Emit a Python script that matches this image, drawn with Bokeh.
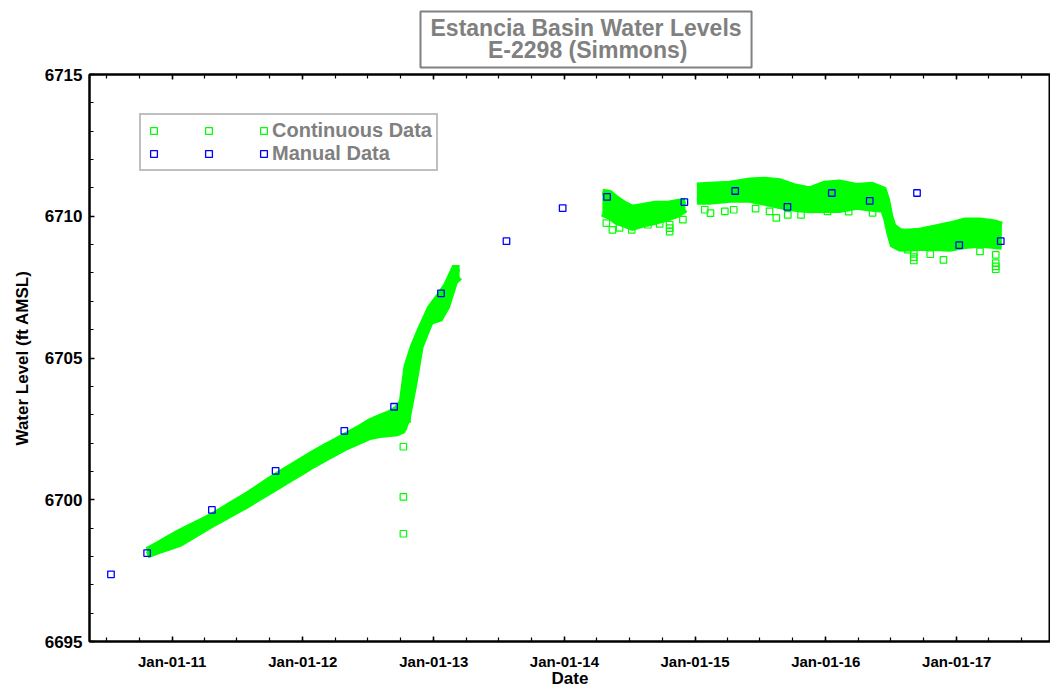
import pandas as pd
from bokeh.plotting import figure
from bokeh.models import (ColumnDataSource, FixedTicker, DatetimeTickFormatter,
                          Legend, LegendItem, DatetimeAxis, Range1d)
from bokeh.embed import file_html
from bokeh.resources import INLINE

# ---------------- data ----------------
title_lines = ["Estancia Basin Water Levels", "E-2298 (Simmons)"]

# continuous record, segment 1 (band envelope: upper / lower readings)
seg1_dates = ["2010-10-23", "2010-11-23", "2010-12-23", "2011-01-23", "2011-02-24", "2011-03-26",
              "2011-04-26", "2011-05-27", "2011-06-27", "2011-07-28", "2011-08-28", "2011-09-28",
              "2011-10-29", "2011-11-29", "2011-12-30", "2012-01-30", "2012-03-01", "2012-04-01",
              "2012-05-02", "2012-06-04", "2012-07-06", "2012-08-03", "2012-08-31", "2012-09-20",
              "2012-10-05", "2012-10-18", "2012-11-05", "2012-11-24", "2012-12-22", "2013-01-18",
              "2013-02-06", "2013-02-28", "2013-03-14"]
seg1_hi = [6698.21, 6698.42, 6698.64, 6698.86, 6699.06, 6699.25, 6699.45, 6699.68, 6699.92, 6700.15,
           6700.41, 6700.67, 6700.92, 6701.16, 6701.39, 6701.63, 6701.85, 6702.06, 6702.27, 6702.50,
           6702.75, 6702.90, 6703.04, 6703.20, 6703.45, 6704.70, 6705.41, 6705.97, 6706.75, 6707.21,
           6707.56, 6708.16, 6708.16]
seg1_lo = [6698.05, 6698.20, 6698.33, 6698.46, 6698.70, 6698.93, 6699.16, 6699.38, 6699.60, 6699.81,
           6700.05, 6700.28, 6700.52, 6700.76, 6700.99, 6701.23, 6701.45, 6701.66, 6701.87, 6702.05,
           6702.23, 6702.30, 6702.34, 6702.36, 6702.45, 6702.83, 6704.00, 6705.41, 6706.29, 6706.40,
           6706.82, 6707.70, 6707.86]

# segment 2 (2014)
seg2_dates = ["2014-04-17", "2014-05-07", "2014-05-27", "2014-06-18", "2014-07-10", "2014-08-08",
              "2014-09-11", "2014-10-14", "2014-11-13", "2014-12-05"]
seg2_hi = [6710.85, 6710.81, 6710.60, 6710.42, 6710.28, 6710.35, 6710.42, 6710.42, 6710.49, 6710.53]
seg2_lo = [6710.11, 6710.00, 6709.82, 6709.72, 6709.61, 6709.72, 6709.82, 6709.93, 6710.07, 6710.25]

# segment 3 (2015-2017)
seg3_dates = ["2015-01-06", "2015-02-11", "2015-04-08", "2015-06-03", "2015-07-15", "2015-08-25",
              "2015-10-07", "2015-11-18", "2015-12-29", "2016-02-09", "2016-03-27", "2016-05-09",
              "2016-06-10", "2016-06-19", "2016-06-28", "2016-07-07", "2016-07-26", "2016-08-09",
              "2016-09-20", "2016-10-31", "2016-12-12", "2017-01-24", "2017-03-07", "2017-04-17",
              "2017-05-07"]
seg3_hi = [6711.07, 6711.09, 6711.13, 6711.24, 6711.27, 6711.22, 6711.03, 6710.93, 6711.13, 6711.17,
           6711.05, 6711.09, 6710.93, 6710.58, 6709.99, 6709.64, 6709.46, 6709.44, 6709.47, 6709.58,
           6709.69, 6709.83, 6709.83, 6709.76, 6709.69]
seg3_lo = [6710.53, 6710.53, 6710.60, 6710.60, 6710.49, 6710.38, 6710.28, 6710.23, 6710.24, 6710.24,
           6710.35, 6710.28, 6710.25, 6709.93, 6709.41, 6709.01, 6708.88, 6708.87, 6708.90, 6708.90,
           6708.87, 6708.97, 6709.01, 6708.97, 6708.94]

# isolated continuous readings below the band
out_dates = ["2012-10-08", "2012-10-08", "2012-10-08", "2012-10-08", "2012-10-18",
             "2014-04-28", "2014-05-15", "2014-06-04", "2014-07-08", "2014-08-22", "2014-09-24",
             "2014-10-22", "2014-10-22", "2014-10-22", "2014-11-28",
             "2015-01-28", "2015-02-13", "2015-03-25", "2015-04-19", "2015-06-19", "2015-07-28",
             "2015-08-16", "2015-09-17", "2015-10-24", "2016-01-06", "2016-03-05", "2016-05-11",
             "2016-08-17", "2016-09-03", "2016-09-03", "2016-09-03", "2016-10-19", "2016-11-25",
             "2017-03-07", "2017-04-20", "2017-04-20", "2017-04-20", "2017-04-20"]
out_vals = [6702.60, 6701.87, 6700.10, 6698.80, 6702.84,
            6709.76, 6709.52, 6709.59, 6709.52, 6709.70, 6709.73,
            6709.70, 6709.58, 6709.46, 6709.88,
            6710.23, 6710.11, 6710.17, 6710.23, 6710.27, 6710.17,
            6709.94, 6710.05, 6710.05, 6710.17, 6710.16, 6710.12,
            6708.82, 6708.72, 6708.56, 6708.44, 6708.66, 6708.46,
            6708.76, 6708.64, 6708.35, 6708.23, 6708.13]

# manual measurements
man_dates = ["2010-07-14", "2010-10-23", "2011-04-22", "2011-10-17", "2012-04-26", "2012-09-12",
             "2013-01-21", "2013-07-23", "2013-12-27", "2014-04-30", "2014-12-02", "2015-04-23",
             "2015-09-16", "2016-01-18", "2016-05-03", "2016-09-12", "2017-01-08", "2017-05-04"]
man_vals = [6697.37, 6698.12, 6699.64, 6701.02, 6702.43, 6703.28, 6707.28, 6709.12, 6710.29,
            6710.68, 6710.50, 6710.89, 6710.33, 6710.82, 6710.54, 6710.82, 6708.98, 6709.12]

x_start, x_end = "2010-05-15", "2017-09-20"
x_tick_years = [2011, 2012, 2013, 2014, 2015, 2016, 2017]
x_minor_years = [2010, 2011, 2012, 2013, 2014, 2015, 2016, 2017]
x_minor_months = [1, 4, 7, 10]
y_ticks = [6695, 6700, 6705, 6710, 6715]
y_minor = list(range(6695, 6716))

# ---------------- styles ----------------
GREEN = "#00ff00"
BLUE = "#0000ff"
GREY = "#808080"
FONT = "Liberation Sans"


def ms(s):
    return pd.Timestamp(s).value / 1e6


p = figure(width=1050, height=690, x_axis_type="datetime", output_backend="svg",
           toolbar_location=None,
           x_range=Range1d(ms(x_start), ms(x_end)), y_range=Range1d(6695, 6715),
           min_border_left=89, min_border_right=0, min_border_top=74, min_border_bottom=49)
p.background_fill_color = "white"
p.border_fill_color = "white"
p.xgrid.visible = False
p.ygrid.visible = False
p.outline_line_color = "black"
p.outline_line_width = 2

# dense continuous record drawn as a solid band (upper / lower envelope)
for d, hi, lo in [(seg1_dates, seg1_hi, seg1_lo), (seg2_dates, seg2_hi, seg2_lo),
                  (seg3_dates, seg3_hi, seg3_lo)]:
    src = ColumnDataSource(dict(x=pd.to_datetime(d), hi=hi, lo=lo))
    p.varea(x="x", y1="lo", y2="hi", source=src, fill_color=GREEN, fill_alpha=1.0)
    p.line(x="x", y="hi", source=src, line_color=GREEN, line_width=7, line_join="miter")
    p.line(x="x", y="lo", source=src, line_color=GREEN, line_width=7, line_join="miter")

cont = p.scatter(x=pd.to_datetime(out_dates), y=out_vals, marker="square", size=6.5,
                 line_color=GREEN, line_width=1.2, fill_color=None)
man = p.scatter(x=pd.to_datetime(man_dates), y=man_vals, marker="square", size=6.5,
                line_color=BLUE, line_width=1.3, fill_color=None)

# ticks
xt = FixedTicker(ticks=[ms(f"{y}-01-01") for y in x_tick_years],
                 minor_ticks=[ms(f"{y}-{m:02d}-01") for y in x_minor_years for m in x_minor_months])
fmt = "%b-%d-%y"
xf = DatetimeTickFormatter(years=fmt, months=fmt, days=fmt, hours=fmt, minutes=fmt,
                           hourmin=fmt, seconds=fmt, milliseconds=fmt, microseconds=fmt)
yt = FixedTicker(ticks=y_ticks, minor_ticks=y_minor)

xa = p.xaxis[0]
xa.ticker = xt
xa.formatter = xf
xa.axis_label = "Date"
xa.major_label_standoff = 11
xa.axis_label_standoff = -4
xa.major_label_text_font_size = "15px"

ya = p.yaxis[0]
ya.ticker = yt
ya.axis_label = "Water Level (ft AMSL)"
ya.major_label_standoff = 7
ya.axis_label_standoff = 10
ya.major_label_text_font_size = "17px"

top = DatetimeAxis(ticker=xt, formatter=xf)
p.add_layout(top, "above")

for ax in [xa, ya, top]:
    ax.axis_line_color = "black"
    ax.axis_line_width = 2
    ax.major_tick_line_color = "black"
    ax.minor_tick_line_color = "black"
    ax.major_tick_line_width = 1.5
    ax.minor_tick_line_width = 1.2
    ax.major_tick_in = 5
    ax.major_tick_out = 0
    ax.minor_tick_in = 4
    ax.minor_tick_out = 0
    ax.major_label_text_font = FONT
    ax.major_label_text_font_style = "bold"
    ax.major_label_text_color = "black"
    ax.axis_label_text_font = FONT
    ax.axis_label_text_font_style = "bold"
    ax.axis_label_text_font_size = "17px"
    ax.axis_label_text_color = "black"

top.major_label_text_color = None
top.major_label_text_font_size = "1px"
top.major_label_standoff = 0

# boxed title; second line indented with no-break spaces so that it sits centred
p.title.text = title_lines[0] + "\n" + "\u00a0" * 9 + title_lines[1]
p.title.align = "left"
p.title.offset = 331
p.title.standoff = 14
p.title.text_font = FONT
p.title.text_font_style = "bold"
p.title.text_font_size = "23px"
p.title.text_color = GREY
p.title.text_line_height = 0.85
p.title.border_line_color = GREY
p.title.border_line_width = 2
p.title.background_fill_color = "white"
p.title.padding = dict(x=10, y=4)

# legend (three markers per row, as in the original)
legend = Legend(items=[LegendItem(label="", renderers=[cont]),
                       LegendItem(label="", renderers=[man]),
                       LegendItem(label="", renderers=[cont]),
                       LegendItem(label="", renderers=[man]),
                       LegendItem(label="Continuous Data", renderers=[cont]),
                       LegendItem(label="Manual Data", renderers=[man])],
                ncols=3, location=(50, 470), margin=0, padding=4, spacing=0,
                glyph_width=17, glyph_height=17, label_standoff=0, label_width=38,
                label_height=17,
                label_text_font=FONT, label_text_font_style="bold", label_text_font_size="20px",
                label_text_color=GREY, border_line_color=GREY, border_line_width=2,
                background_fill_color="white", background_fill_alpha=1.0)
p.add_layout(legend)

open("out.html", "w").write(file_html(p, INLINE))
